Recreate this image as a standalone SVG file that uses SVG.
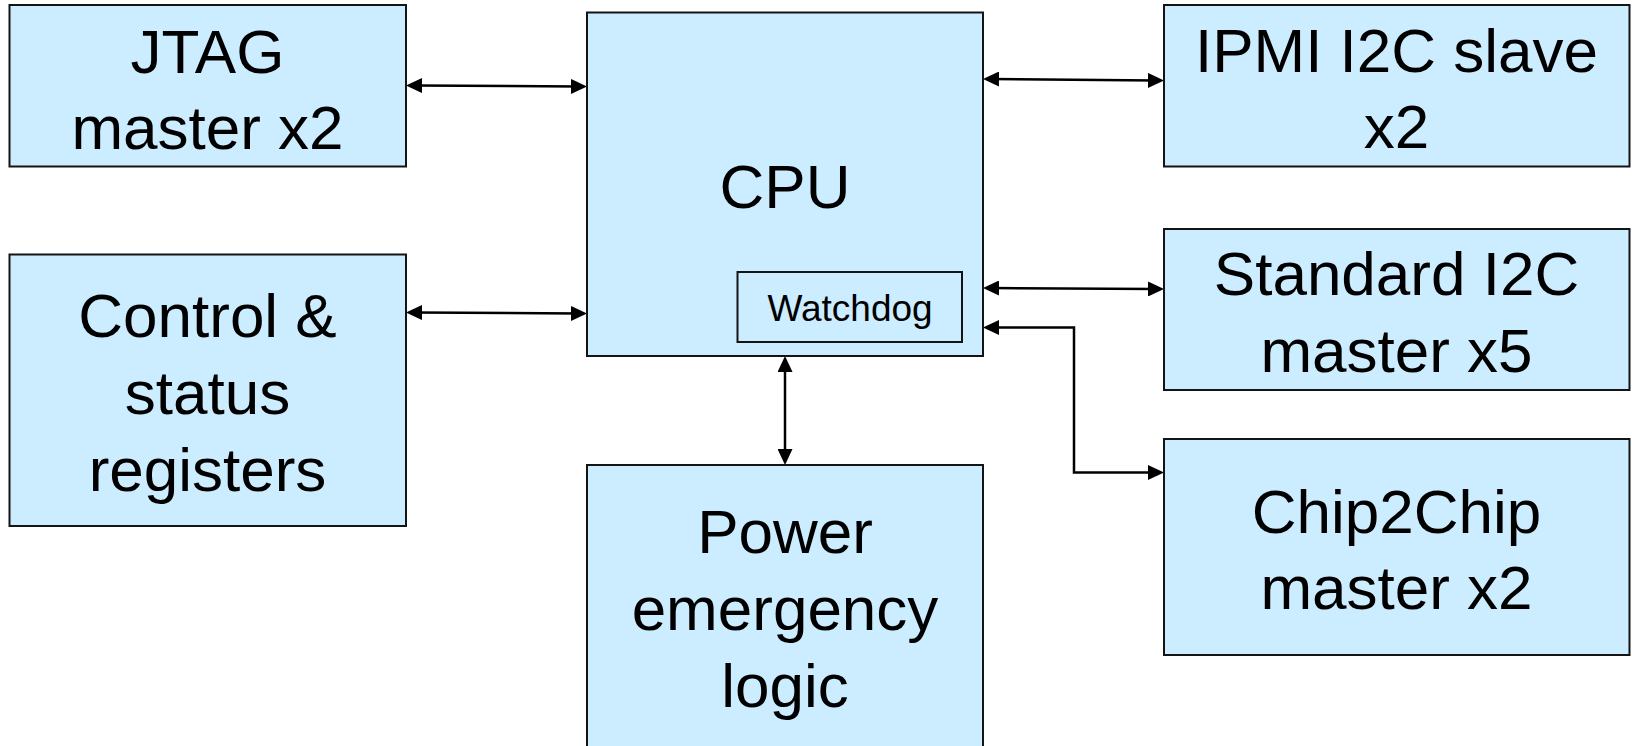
<svg xmlns="http://www.w3.org/2000/svg" width="1632" height="746" viewBox="0 0 1632 746">
  <defs>
    <style>
      .box { fill: #CCECFF; stroke: #141414; stroke-width: 2; }
      .lbl { font-family: "Liberation Sans", Arial, sans-serif; font-size: 62px; fill: #000; text-anchor: middle; }
      .small { font-size: 37px; }
      .wire { fill: none; stroke: #000; stroke-width: 2.5; marker-start: url(#head); marker-end: url(#head); }
    </style>
    <!-- filled triangular arrowhead; path ends sit at its midpoint so the tip lands on the box edge -->
    <marker id="head" viewBox="0 0 16 15" refX="8" refY="7.5" markerWidth="16" markerHeight="15" markerUnits="userSpaceOnUse" orient="auto-start-reverse">
      <path d="M0,0 L16,7.5 L0,15 Z" fill="#000"/>
    </marker>
  </defs>
  <rect width="1632" height="746" fill="#fff"/>

  <g id="connectors">
    <path class="wire" d="M414,85.5 L579,86.5"/>
    <path class="wire" d="M414,312.5 L579,313.5"/>
    <path class="wire" d="M991,79 L1156,80.5"/>
    <path class="wire" d="M991,288 L1156,289"/>
    <path class="wire" d="M991,327.5 L1074,327.5 L1074,472.5 L1156,472.5"/>
    <path class="wire" d="M785,364 L785,457"/>
  </g>

  <g id="jtag">
    <rect class="box" x="9.5" y="5" width="396.5" height="161.5"/>
    <text class="lbl" x="207.5" y="73">JTAG</text>
    <text class="lbl" x="207.5" y="149">master x2</text>
  </g>

  <g id="control">
    <rect class="box" x="9.5" y="254.5" width="396.5" height="271.5"/>
    <text class="lbl" x="207.5" y="337">Control &amp;</text>
    <text class="lbl" x="207.5" y="414">status</text>
    <text class="lbl" x="207.5" y="491">registers</text>
  </g>

  <g id="cpu">
    <rect class="box" x="587" y="12.5" width="396" height="343.5"/>
    <text class="lbl" x="785" y="208">CPU</text>
  </g>

  <g id="watchdog">
    <rect class="box" x="737.5" y="272" width="224.5" height="70"/>
    <text class="lbl small" x="850" y="321">Watchdog</text>
  </g>

  <g id="power">
    <rect class="box" x="587" y="465" width="396" height="300"/>
    <text class="lbl" x="785" y="553">Power</text>
    <text class="lbl" x="785" y="630">emergency</text>
    <text class="lbl" x="785" y="707">logic</text>
  </g>

  <g id="ipmi">
    <rect class="box" x="1164" y="5" width="465.5" height="161.5"/>
    <text class="lbl" x="1396.5" y="72">IPMI I2C slave</text>
    <text class="lbl" x="1396.5" y="148">x2</text>
  </g>

  <g id="std-i2c">
    <rect class="box" x="1164" y="229" width="465.5" height="161"/>
    <text class="lbl" x="1396.5" y="295">Standard I2C</text>
    <text class="lbl" x="1396.5" y="372">master x5</text>
  </g>

  <g id="chip2chip">
    <rect class="box" x="1164" y="439" width="465.5" height="216"/>
    <text class="lbl" x="1396.5" y="533">Chip2Chip</text>
    <text class="lbl" x="1396.5" y="609">master x2</text>
  </g>
</svg>
